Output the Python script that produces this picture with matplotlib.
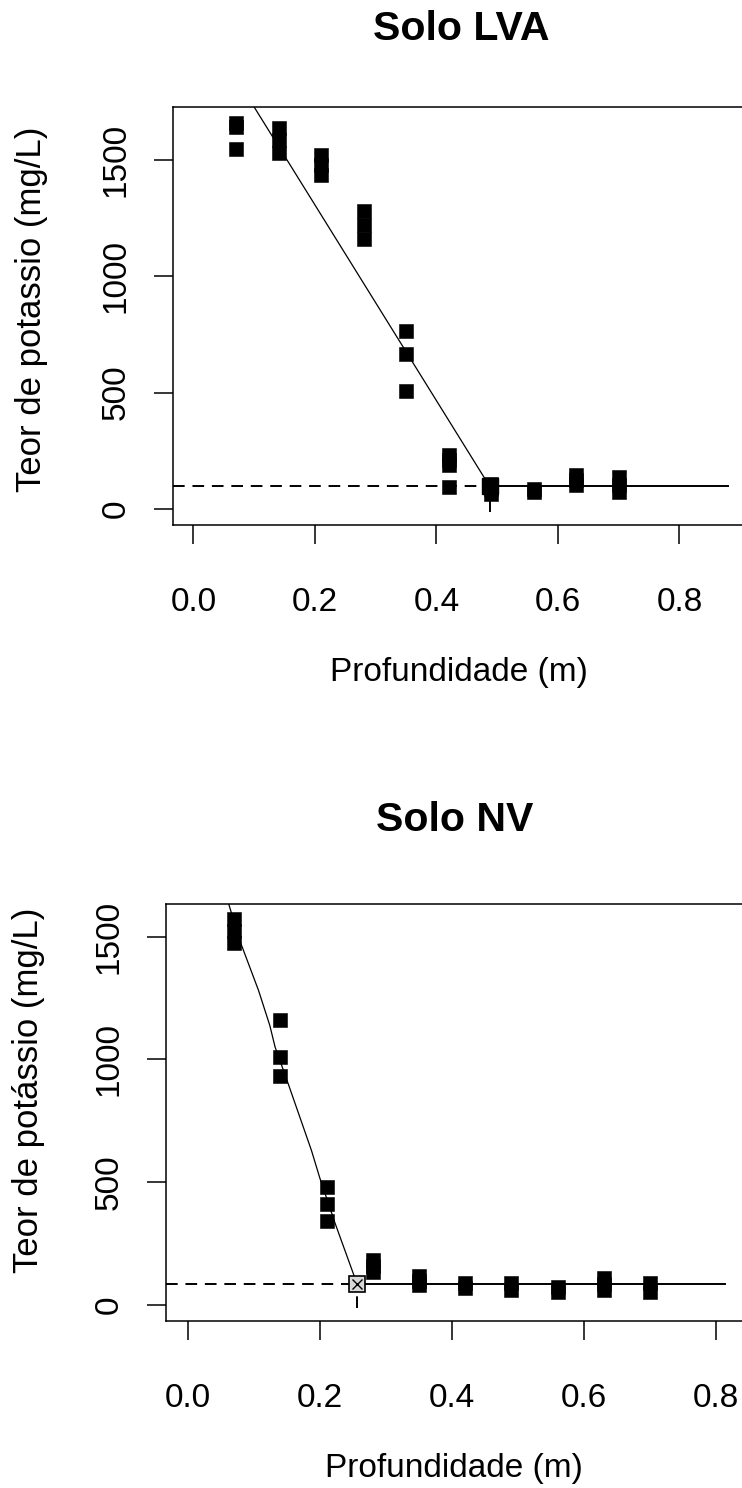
import matplotlib
matplotlib.use("Agg")
import matplotlib.pyplot as plt

plt.rcParams["font.family"] = ["Liberation Sans", "DejaVu Sans"]

# ── data ────────────────────────────────────────────────────────────────────────

# Solo LVA
lva_depth = ([0.07] * 3 + [0.14] * 3 + [0.21] * 3 + [0.28] * 3 + [0.35] * 3 +
             [0.42] * 4 + [0.49] * 3 + [0.56] * 2 + [0.63] * 3 + [0.70] * 3)
lva_k = [1659, 1640, 1548,
         1639, 1585, 1530,
         1520, 1478, 1437,
         1281, 1220, 1160,
         764, 665, 507,
         233, 212, 190, 95,
         106, 86, 66,
         85, 73,
         147, 125, 102,
         138, 105, 73]
lva_fit_x = [0.100, 0.481, 0.488]
lva_fit_y = [1727, 125, 97]
lva_break = (0.488, 97)
lva_end = 0.88

# Solo NV
nv_depth = ([0.07] * 3 + [0.14] * 3 + [0.21] * 3 + [0.28] * 3 + [0.35] * 3 +
            [0.42] * 2 + [0.49] * 2 + [0.56] * 2 + [0.63] * 3 + [0.70] * 2)
nv_k = [1573, 1522, 1474,
        1160, 1011, 934,
        481, 413, 343,
        184, 158, 133,
        117, 98, 80,
        89, 68,
        89, 60,
        73, 52,
        108, 84, 60,
        89, 52]
nv_fit_x = [0.062, 0.080, 0.107, 0.124, 0.132, 0.150, 0.187, 0.200, 0.223, 0.256]
nv_fit_y = [1630, 1473, 1280, 1138, 1050, 915, 630, 515, 332, 87]
nv_break = (0.256, 87)
nv_end = 0.814

x_ticks = [0.0, 0.2, 0.4, 0.6, 0.8]
y_ticks = [0, 500, 1000, 1500]

W, H = 742, 1488


def fx(px):
    return px / W


def fy(py):
    return 1 - py / H


def panel(ax, depth, k, fit_x, fit_y, brk, x_end, bottom_y, break_filled):
    lo = ax.get_xlim()[0]
    # dashed reference up to the breakpoint, plateau after it
    ax.plot([lo, brk[0]], [brk[1], brk[1]], color="black", lw=1.4,
            dashes=(6, 4), zorder=2)
    ax.plot([brk[0], x_end], [brk[1], brk[1]], color="black", lw=1.4, zorder=2)
    ax.plot([brk[0], brk[0]], [bottom_y, brk[1]], color="black", lw=1.4,
            dashes=(6, 4), zorder=2)
    ax.plot(fit_x, fit_y, color="black", lw=0.9, zorder=2)
    if break_filled:
        ax.plot([brk[0]], [brk[1]], marker="s", ms=11.5, mfc="black",
                mec="black", zorder=3)
    else:
        ax.plot([brk[0]], [brk[1]], marker="s", ms=11, mfc="#d8d8d8",
                mec="black", mew=1.2, zorder=3)
        ax.plot([brk[0]], [brk[1]], marker="x", ms=7.5, color="black",
                mew=1.0, zorder=4)
    ax.plot(depth, k, linestyle="none", marker="s", ms=10.3, mfc="black",
            mec="black", mew=0.4, zorder=5)

    ax.set_xticks(x_ticks)
    ax.set_xticklabels([f"{t:.1f}" for t in x_ticks])
    ax.set_yticks(y_ticks)
    ax.set_yticklabels([str(t) for t in y_ticks], rotation=90, va="center")
    ax.tick_params(axis="both", direction="out", length=13.7, width=1.1,
                   labelsize=24, colors="black")
    ax.tick_params(axis="x", pad=31)
    ax.tick_params(axis="y", pad=16)
    for s in ax.spines.values():
        s.set_linewidth(1.1)


fig = plt.figure(figsize=(W / 100, H / 100), dpi=100)

# ── top panel: Solo LVA ─────────────────────────────────────────────────────────
ax1 = fig.add_axes([fx(173), fy(525), fx(764.5) - fx(173), fy(107) - fy(525)])
ax1.set_xlim(-0.0337, 0.94)
ax1.set_ylim(-68.8, 1727.5)
panel(ax1, lva_depth, lva_k, lva_fit_x, lva_fit_y, lva_break, lva_end, -12, True)

fig.text(fx(461), fy(40), "Solo LVA", ha="center", va="baseline",
         fontsize=29.5, fontweight="bold")
fig.text(fx(459), fy(673), "Profundidade (m)", ha="center", va="center",
         fontsize=24)
fig.text(fx(32), fy(309), "Teor de potassio (mg/L)", ha="center", va="center",
         rotation=90, fontsize=25)

# ── bottom panel: Solo NV ───────────────────────────────────────────────────────
ax2 = fig.add_axes([fx(166), fy(1321), fx(755.6) - fx(166), fy(904) - fy(1321)])
ax2.set_xlim(-0.0333, 0.86)
ax2.set_ylim(-65.1, 1632.7)
panel(ax2, nv_depth, nv_k, nv_fit_x, nv_fit_y, nv_break, nv_end, -12, False)

fig.text(fx(455), fy(831), "Solo NV", ha="center", va="baseline",
         fontsize=29.5, fontweight="bold")
fig.text(fx(454), fy(1469), "Profundidade (m)", ha="center", va="center",
         fontsize=24)
fig.text(fx(29), fy(1090), "Teor de potássio (mg/L)", ha="center", va="center",
         rotation=90, fontsize=25)

fig.savefig("out.png", dpi=100)
